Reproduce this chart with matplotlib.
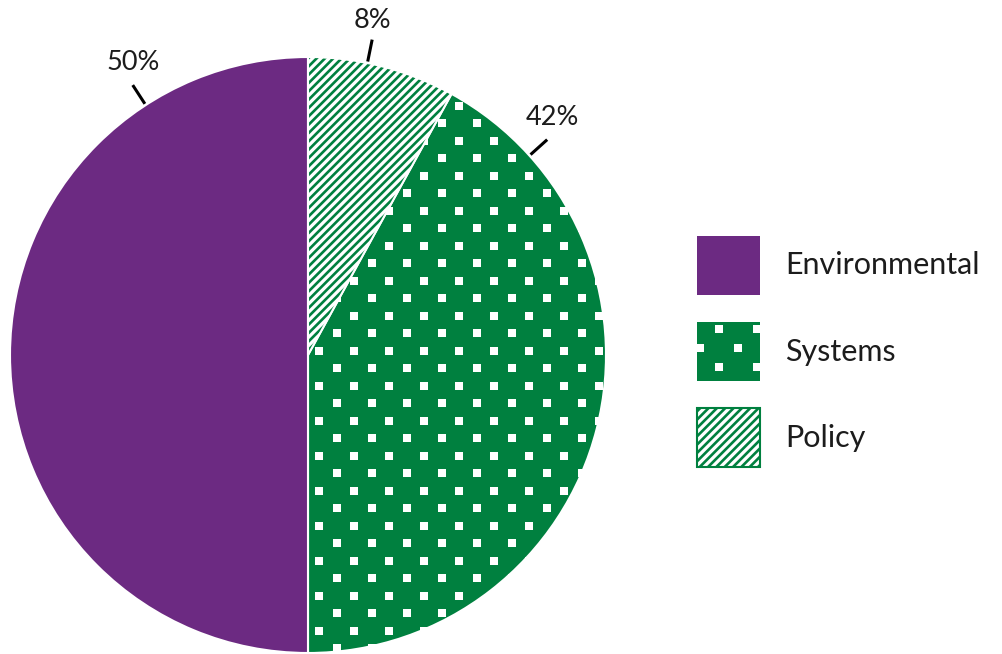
import numpy as np
import matplotlib
matplotlib.use("Agg")
import matplotlib.pyplot as plt
from matplotlib.patches import Wedge, Rectangle

# Share of issues by category
CATEGORIES = ["Policy", "Systems", "Environmental"]
SHARES = [8, 42, 50]
LEGEND_ORDER = ["Environmental", "Systems", "Policy"]

PURPLE = "#6c2a82"
GREEN = "#00803f"
TEXT = "#1c1c1c"

# angle (deg) of each leader line on the rim
LABEL_ANGLES = {"Policy": 78.5, "Systems": 42.0, "Environmental": 123.0}
LABEL_SHIFT = {"Policy": (0, -2), "Systems": (4, 0), "Environmental": (0, 0)}

plt.rcParams["font.family"] = ["Lato", "DejaVu Sans"]
plt.rcParams["hatch.linewidth"] = 1.9

W, H = 1003, 654
fig = plt.figure(figsize=(W / 100, H / 100), dpi=100)

# pie axes: centre (308, 355) px, radius 298 px
cx, cy, r = 308, 355, 298
ax = fig.add_axes([(cx - r) / W, (H - cy - r) / H, 2 * r / W, 2 * r / H])

fills = {"Policy": "white", "Systems": GREEN, "Environmental": PURPLE}
wedges, _ = ax.pie(SHARES, startangle=90, counterclock=False, radius=1.0,
                   colors=[fills[c] for c in CATEGORIES],
                   wedgeprops=dict(edgecolor="white", linewidth=1.5))
wmap = dict(zip(CATEGORIES, wedges))
ax.set_xlim(-1, 1)
ax.set_ylim(-1, 1)
ax.set_aspect("equal")
ax.axis("off")


def dot_grid(x0, x1, y0, y1, sx, sy, ox, oy):
    """Staggered grid of points covering a box."""
    pts = []
    for shift in (0.0, 0.5):
        xs = ox + (np.arange(-60, 60) + shift) * sx
        ys = oy + (np.arange(-60, 60) + shift) * sy
        xs = xs[(xs > x0 - sx) & (xs < x1 + sx)]
        ys = ys[(ys > y0 - sy) & (ys < y1 + sy)]
        gx, gy = np.meshgrid(xs, ys)
        pts.append(np.column_stack([gx.ravel(), gy.ravel()]))
    return np.vstack(pts)


# white squares on the Systems slice
step = 35 / r
pts = dot_grid(-1, 1, -1, 1, step, step, (407 - cx) / r, (cy - 333) / r)
dots = ax.scatter(pts[:, 0], pts[:, 1], marker="s", s=34, color="white",
                  linewidths=0, zorder=3)
dots.set_clip_path(wmap["Systems"])

# diagonal hatching on the Policy slice
pw = wmap["Policy"]
hatch = Wedge(pw.center, pw.r, pw.theta1, pw.theta2, facecolor="none",
              edgecolor=GREEN, linewidth=0, hatch="////", zorder=3)
ax.add_patch(hatch)
ax.add_patch(Wedge(pw.center, pw.r, pw.theta1, pw.theta2, facecolor="none",
                   edgecolor="white", linewidth=1.5, zorder=4))

# percentage labels with short leader lines
for cat, val in zip(CATEGORIES, SHARES):
    a = np.deg2rad(LABEL_ANGLES[cat])
    x0, y0 = 1.005 * np.cos(a), 1.005 * np.sin(a)
    x1, y1 = 1.08 * np.cos(a), 1.08 * np.sin(a)
    ax.plot([x0, x1], [y0, y1], color="black", lw=2.2,
            solid_capstyle="butt", clip_on=False, zorder=5)
    dx, dy = LABEL_SHIFT[cat]
    ax.annotate(f"{val}%", (x1, y1), xytext=(dx, 7 + dy),
                textcoords="offset points", ha="center", va="bottom",
                fontsize=19.5, color=TEXT, annotation_clip=False)

# legend drawn in pixel coordinates
lax = fig.add_axes([0, 0, 1, 1])
lax.set_xlim(0, W)
lax.set_ylim(H, 0)
lax.axis("off")

box_x, box_w, box_h = 697, 63, 59
box_y = [236, 322, 408]
for cat, y in zip(LEGEND_ORDER, box_y):
    if cat == "Environmental":
        lax.add_patch(Rectangle((box_x, y), box_w, box_h, facecolor=PURPLE,
                                edgecolor="none"))
    elif cat == "Systems":
        rect = Rectangle((box_x, y), box_w, box_h, facecolor=GREEN,
                         edgecolor="none")
        lax.add_patch(rect)
        lp = dot_grid(box_x, box_x + box_w, y, y + box_h, 38, 38,
                      box_x + 22, y + 6.5)
        ld = lax.scatter(lp[:, 0], lp[:, 1], marker="s", s=34,
                         color="white", linewidths=0, zorder=3)
        ld.set_clip_path(rect)
    else:
        lax.add_patch(Rectangle((box_x, y), box_w, box_h, facecolor="white",
                                edgecolor=GREEN, linewidth=0, hatch="////"))
        lax.add_patch(Rectangle((box_x, y), box_w, box_h, facecolor="none",
                                edgecolor=GREEN, linewidth=1.5))
    lax.text(785, y + box_h / 2, cat, ha="left", va="center",
             fontsize=22, color=TEXT)

fig.savefig("out.png", dpi=100, facecolor="white")
